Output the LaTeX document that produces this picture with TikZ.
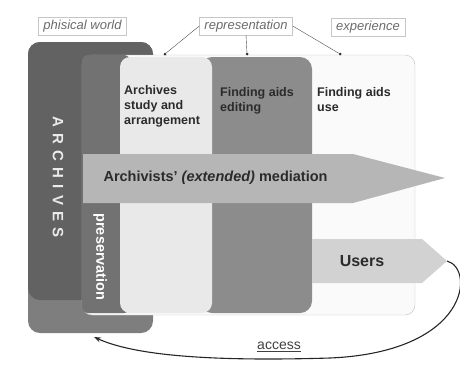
\documentclass[tikz,border=0pt]{standalone}
\usepackage{fontspec}
\setmainfont{Liberation Sans}
\setsansfont{Liberation Sans}
\usetikzlibrary{arrows.meta}
\definecolor{archface}{HTML}{626262}
\definecolor{archedge}{HTML}{7E7E7E}
\definecolor{preservecol}{HTML}{727272}
\definecolor{studycol}{HTML}{E9E9E9}
\definecolor{editcol}{HTML}{8C8C8C}
\definecolor{framecol}{HTML}{FAFAFA}
\definecolor{mediatecol}{HTML}{B6B6B6}
\definecolor{userscol}{HTML}{D2D2D2}
\definecolor{inkcol}{HTML}{2B2B2B}

\begin{document}
\begin{tikzpicture}[x=1pt, y=-1pt,
  tag/.style={draw=gray!45, fill=white, text=gray!85!black, font=\fontsize{13}{15}\selectfont\itshape, inner xsep=5pt, inner ysep=0pt, minimum height=18pt},
  coltext/.style={anchor=north west, align=left, inner sep=0pt, text=inkcol, font=\fontsize{12.5}{15}\selectfont\bfseries},
  dot/.style={circle, fill=black!80, inner sep=0pt, minimum size=3pt}]
\useasboundingbox (0,0) rectangle (460,370);

% top labels
\node[tag] (phisical) at (82.5,26) {phisical world};
\node[tag] (repr) at (246,26) {representation};
\node[tag] (exper) at (368,27.5) {experience};

% archives block
\fill[archedge, rounded corners=12pt] (28,42) rectangle (153,333);
\fill[archface, rounded corners=12pt] (28,42) rectangle (153,300);

% frame and columns
\filldraw[fill=framecol, draw=gray!50, rounded corners=10pt] (82,55) rectangle (415,315);
\fill[preservecol, rounded corners=6pt] (82,55) rectangle (130,313);
\fill[editcol, rounded corners=12pt] (200,57) rectangle (312,313);
\fill[studycol, rounded corners=10pt] (120,57) rectangle (212,313);

% arrows
\fill[mediatecol] (83,154) -- (353,154) -- (445,178) -- (353,203) -- (83,203) -- cycle;
\fill[userscol] (312,239) -- (422,239) -- (447,261) -- (422,283) -- (312,283) -- cycle;
\coordinate (userstip) at (447,261);
\coordinate (archfoot) at (94,337);

% texts
\node[rotate=-90, text=white!92!black, font=\fontsize{15}{15}\selectfont\bfseries\addfontfeature{LetterSpace=42}] (archives) at (58,177) {ARCHIVES};
\node[rotate=-90, text=white, font=\fontsize{14.5}{15}\selectfont\bfseries] (preserv) at (100,257) {preservation};
\node[coltext] (study) at (124,85) {Archives\\study and\\arrangement};
\node[coltext] (editing) at (220,87) {Finding aids\\editing};
\node[coltext] (use) at (317,87) {Finding aids\\use};
\node[anchor=west, text=inkcol, font=\fontsize{14.5}{16}\selectfont\bfseries] (mediation) at (100,178) {Archivists' \textit{(extended)} mediation};
\node[text=inkcol, font=\fontsize{16}{18}\selectfont\bfseries] (users) at (362,261) {Users};
\node[text=black!75, font=\fontsize{14}{16}\selectfont] (access) at (279,347) {\underline{access}};

% representation links
\node[dot] (dotA) at (165,54) {};
\node[dot] (dotB) at (247,54) {};
\node[dot] (dotC) at (340,54) {};
\draw[black!70] (repr.west) -- (dotA);
\draw[black!70] (repr.south) -- (dotB);
\draw[black!70] (repr.east) -- (dotC);

% access loop
\draw[black!85, line width=1.1pt, -{Stealth[length=7pt,width=5pt]}] (userstip) .. controls (475,268) and (470,352) .. (330,358) .. controls (230,361) and (140,358) .. (archfoot);
\end{tikzpicture}
\end{document}
